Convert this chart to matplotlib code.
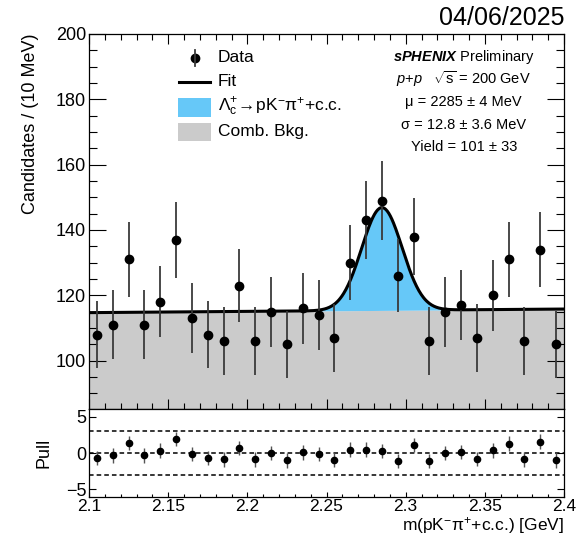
import numpy as np
import matplotlib
matplotlib.use("Agg")
import matplotlib.pyplot as plt
from matplotlib.patches import Rectangle
from matplotlib.ticker import MultipleLocator, FormatStrFormatter

plt.rcParams["font.family"] = ["Liberation Sans", "DejaVu Sans"]
plt.rcParams["mathtext.fontset"] = "custom"
plt.rcParams["mathtext.rm"] = "Liberation Sans"
plt.rcParams["mathtext.it"] = "Liberation Sans:italic"
plt.rcParams["mathtext.bf"] = "Liberation Sans:bold"
plt.rcParams["mathtext.bfit"] = "Liberation Sans:bold:italic"
plt.rcParams["axes.unicode_minus"] = True

# ---- data: 10 MeV bins from 2.10 to 2.40 GeV ----
bin_width = 0.01
bin_centers = np.round(np.arange(2.105, 2.40, bin_width), 3)
counts = np.array([108, 111, 131, 111, 118, 137, 113, 108, 106, 123,
                   106, 115, 105, 116, 114, 107, 130, 143, 149, 126,
                   138, 106, 115, 117, 107, 120, 131, 106, 134, 105])
pulls = np.array([-0.66, -0.34, 1.40, -0.34, 0.34, 1.95, -0.15, -0.66, -0.89, 0.71,
                  -0.89, 0.00, -1.03, 0.08, -0.10, -1.00, 0.48, 0.48, 0.25, -1.10,
                  1.07, -1.10, 0.00, 0.10, -0.85, 0.35, 1.30, -0.90, 1.58, -1.02])

# ---- fit result ----
fit_mu = 2.285      # GeV
fit_sigma = 0.0128  # GeV
fit_yield = 101
bkg_lo = 114.7      # background level at 2.10 GeV
bkg_hi = 115.8      # background level at 2.40 GeV
x_lo, x_hi = 2.10, 2.40

xf = np.linspace(x_lo, x_hi, 600)
bkg = bkg_lo + (bkg_hi - bkg_lo) * (xf - x_lo) / (x_hi - x_lo)
sig = fit_yield * bin_width / (np.sqrt(2 * np.pi) * fit_sigma) * np.exp(-0.5 * ((xf - fit_mu) / fit_sigma) ** 2)
total = bkg + sig

W, H = 577, 538
fig = plt.figure(figsize=(W / 100, H / 100), dpi=100)
ax = fig.add_axes([89 / W, 1 - 409 / H, 475 / W, 375 / H])
axp = fig.add_axes([89 / W, 1 - 497 / H, 475 / W, 88 / H], sharex=ax)

ymin, ymax = 85.2, 200
gray = "#cbcbcb"
blue = "#66c8f8"

# ==========================================
# MAIN PANEL
# ==========================================
ax.fill_between(xf, ymin, bkg, color=gray, lw=0, zorder=1)
ax.fill_between(xf, bkg, total, color=blue, lw=0, zorder=1)
ax.plot(xf, total, color="black", lw=2.2, zorder=3)
ax.errorbar(bin_centers, counts, yerr=np.sqrt(counts), fmt="o", color="black",
            ms=6, ecolor="#3a3a3a", elinewidth=1.3, capsize=0, zorder=4)

ax.set_xlim(x_lo, x_hi)
ax.set_ylim(ymin, ymax)
ax.yaxis.set_major_locator(MultipleLocator(20))
ax.yaxis.set_minor_locator(MultipleLocator(5))
ax.xaxis.set_major_locator(MultipleLocator(0.05))
ax.xaxis.set_minor_locator(MultipleLocator(0.01))
ax.tick_params(axis="both", which="both", direction="in", top=True, right=True, width=0.8)
ax.tick_params(axis="y", which="major", length=12, labelsize=13, pad=2)
ax.tick_params(axis="y", which="minor", length=6)
ax.tick_params(axis="x", which="major", length=7)
ax.tick_params(axis="x", which="minor", length=4.3)
ax.tick_params(axis="x", labelbottom=False)
for s in ax.spines.values():
    s.set_linewidth(0.9)

ax.set_ylabel("Candidates / (10 MeV)", fontsize=13, loc="top")
ax.yaxis.set_label_coords(-0.105, 1.0)

# legend
lx_mark, lx_text = 0.223, 0.271
ax.plot([lx_mark], [0.936], "o", color="black", ms=6, transform=ax.transAxes, clip_on=False)
ax.plot([lx_mark, lx_mark], [0.936 - 0.0205, 0.936 + 0.0205], color="#3a3a3a", lw=1.3,
        transform=ax.transAxes)
ax.text(lx_text, 0.936, "Data", fontsize=12.5, va="center", transform=ax.transAxes)
ax.plot([0.189, 0.255], [0.872, 0.872], color="black", lw=2.2, transform=ax.transAxes)
ax.text(lx_text, 0.872, "Fit", fontsize=12.5, va="center", transform=ax.transAxes)
ax.add_patch(Rectangle((0.187, 0.779), 0.070, 0.051, transform=ax.transAxes,
                       facecolor=blue, edgecolor="none"))
ax.text(lx_text, 0.806, r"$\mathrm{\Lambda_{c}^{+}\!\rightarrow\! pK^{-}\pi^{+}}$+c.c.",
        fontsize=12.5, va="center", transform=ax.transAxes)
ax.add_patch(Rectangle((0.187, 0.714), 0.070, 0.049, transform=ax.transAxes,
                       facecolor=gray, edgecolor="none"))
ax.text(lx_text, 0.739, "Comb. Bkg.", fontsize=12.5, va="center", transform=ax.transAxes)

# fit summary
tx = 0.789
ax.text(tx, 0.939, r"$\mathbfit{sPHENIX}$ Preliminary", fontsize=10.5, ha="center", va="center",
        transform=ax.transAxes)
ax.text(tx, 0.879, r"$p$+$p$   $\sqrt{\mathrm{s}}$ = 200 GeV", fontsize=10.5, ha="center",
        va="center", transform=ax.transAxes)
ax.text(tx, 0.819, "\u03bc = 2285 \u00b1 4 MeV", fontsize=10.5, ha="center", va="center",
        transform=ax.transAxes)
ax.text(tx, 0.757, "\u03c3 = 12.8 \u00b1 3.6 MeV", fontsize=10.5, ha="center", va="center",
        transform=ax.transAxes)
ax.text(tx, 0.699, "Yield = 101 \u00b1 33", fontsize=10.5, ha="center", va="center",
        transform=ax.transAxes)

# ==========================================
# PULL PANEL
# ==========================================
for lev in (-3, 0, 3):
    axp.axhline(lev, color="black", lw=1.1, ls=(0, (3, 2)), zorder=1)
axp.errorbar(bin_centers, pulls, yerr=np.ones_like(pulls), fmt="o", color="black",
             ms=4.5, ecolor="#555555", elinewidth=1.0, capsize=0, zorder=3)
axp.set_ylim(-6.1, 6.1)
axp.yaxis.set_major_locator(MultipleLocator(5))
axp.yaxis.set_minor_locator(plt.NullLocator())
axp.xaxis.set_major_formatter(FormatStrFormatter("%g"))
axp.tick_params(axis="both", which="both", direction="in", right=True, width=0.8, labelsize=13)
axp.tick_params(axis="y", which="major", length=5, pad=2)
axp.tick_params(axis="x", which="major", length=3.5, pad=1.5, labelsize=12.5)
axp.tick_params(axis="x", which="minor", length=2.2)
for s in axp.spines.values():
    s.set_linewidth(0.9)

axp.set_ylabel("Pull", fontsize=13)
axp.yaxis.set_label_coords(-0.076, 0.5)
axp.set_xlabel(r"m(pK$^{-}\mathrm{\pi}^{+}$+c.c.) [GeV]", fontsize=12.5, loc="right", va="bottom")
axp.xaxis.set_label_coords(1.0, -0.445)

fig.text(564 / W, 1 - 18 / H, "04/06/2025", fontsize=18, ha="right", va="center")

fig.savefig("out.png", dpi=100)
